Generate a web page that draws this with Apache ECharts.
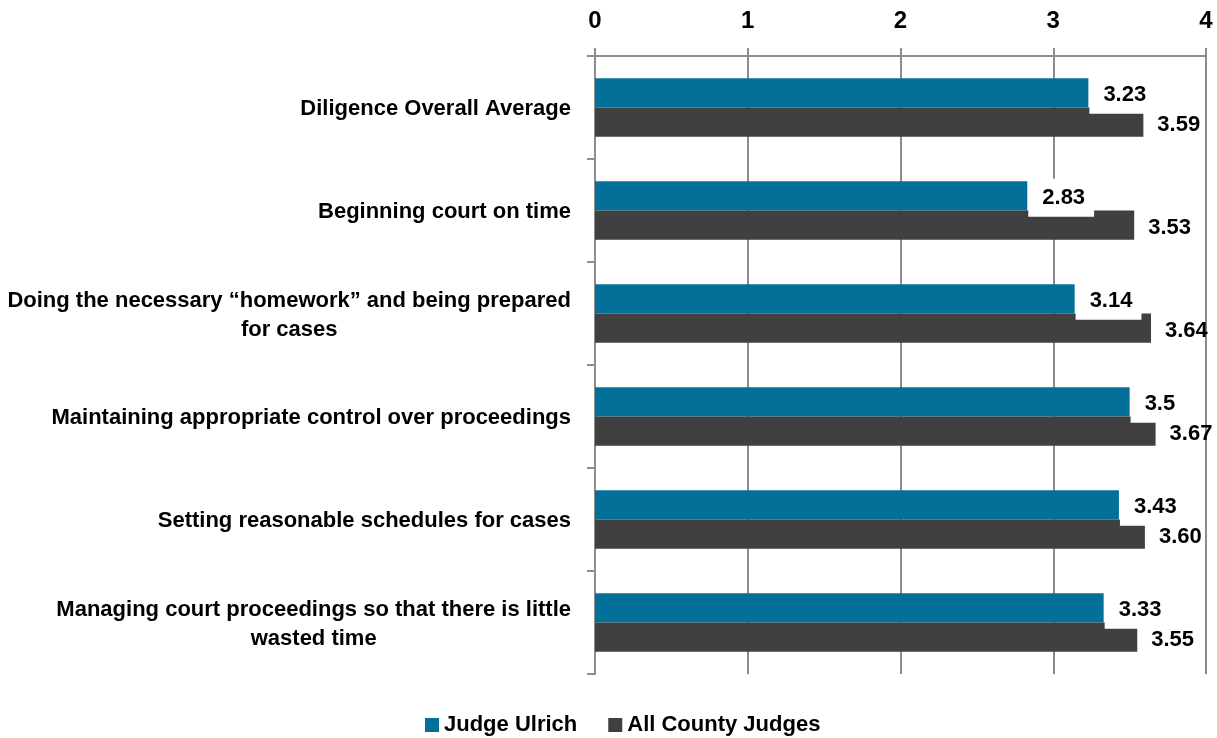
<!DOCTYPE html>
<html>
<head>
<meta charset="utf-8">
<script src="https://cdn.jsdelivr.net/npm/echarts@6/dist/echarts.min.js"></script>
<style>
html,body{margin:0;padding:0;background:#fff;}
#chart{width:1217px;height:738px;}
</style>
</head>
<body>
<div id="chart"></div>
<script>
var categories = [
  "Diligence Overall Average",
  "Beginning court on time",
  "Doing the necessary \u201chomework\u201d and being prepared\nfor cases",
  "Maintaining appropriate control over proceedings",
  "Setting reasonable schedules for cases",
  "Managing court proceedings so that there is little\nwasted time"
];
var seriesNames = ["Judge Ulrich", "All County Judges"];
var judgeUlrich = [3.23, 2.83, 3.14, 3.5, 3.43, 3.33];
var allCountyJudges = [3.59, 3.53, 3.64, 3.67, 3.60, 3.55];
var xTicks = { min: 0, max: 4, interval: 1 };

var FONT = "'Liberation Sans', Arial, sans-serif";
var FS = 22;
var GRAY = '#8c8c8c';
var chart = echarts.init(document.getElementById('chart'));
chart.setOption({
  animation: false,
  textStyle: { fontFamily: FONT },
  grid: { left: 595, right: 11, top: 56, bottom: 64, containLabel: false, outerBoundsMode: 'none' },
  legend: {
    data: seriesNames,
    left: 425, top: 714, padding: 0,
    icon: 'rect', itemWidth: 14, itemHeight: 14, itemGap: 31,
    textStyle: { fontFamily: FONT, fontWeight: 'bold', fontSize: FS, color: '#000' }
  },
  xAxis: {
    type: 'value', position: 'top',
    min: xTicks.min, max: xTicks.max, interval: xTicks.interval,
    axisLine: { show: true, lineStyle: { color: GRAY, width: 2 } },
    axisTick: { show: true, length: 8, lineStyle: { color: GRAY, width: 2 } },
    splitLine: { show: true, lineStyle: { color: GRAY, width: 2 } },
    axisLabel: { fontFamily: FONT, fontWeight: 'bold', fontSize: 24, color: '#000', margin: 23 }
  },
  yAxis: {
    type: 'category', inverse: true, data: categories,
    axisLine: { show: true, lineStyle: { color: GRAY, width: 2 } },
    axisTick: { show: true, length: 8, alignWithLabel: false, lineStyle: { color: GRAY, width: 2 } },
    axisLabel: {
      margin: 24, color: '#000',
      formatter: function (v) { return v.split('\n').map(function (l) { return '{a|' + l + '}'; }).join('\n'); },
      rich: { a: { fontFamily: FONT, fontWeight: 'bold', fontSize: FS, color: '#000', align: 'center', lineHeight: 29, padding: [3, 0, 0, 0] } }
    }
  },
  series: [
    {
      name: seriesNames[0], type: 'bar', data: judgeUlrich,
      barGap: '0%', barCategoryGap: '43%',
      itemStyle: { color: '#03709a' },
      label: {
        show: true, position: 'right', distance: 1, offset: [0, 2],
        formatter: function (p) { return String(p.value); },
        fontFamily: FONT, fontWeight: 'bold', fontSize: FS, color: '#000',
        backgroundColor: '#fff', padding: [9, 9, 7, 14], lineHeight: 22
      }
    },
    {
      name: seriesNames[1], type: 'bar', data: allCountyJudges,
      barGap: '0%', barCategoryGap: '43%',
      itemStyle: { color: '#404040' },
      label: {
        show: true, position: 'right', distance: 14, offset: [0, 3],
        formatter: function (p) { return p.value.toFixed(2); },
        fontFamily: FONT, fontWeight: 'bold', fontSize: FS, color: '#000'
      }
    }
  ]
});
</script>
</body>
</html>
